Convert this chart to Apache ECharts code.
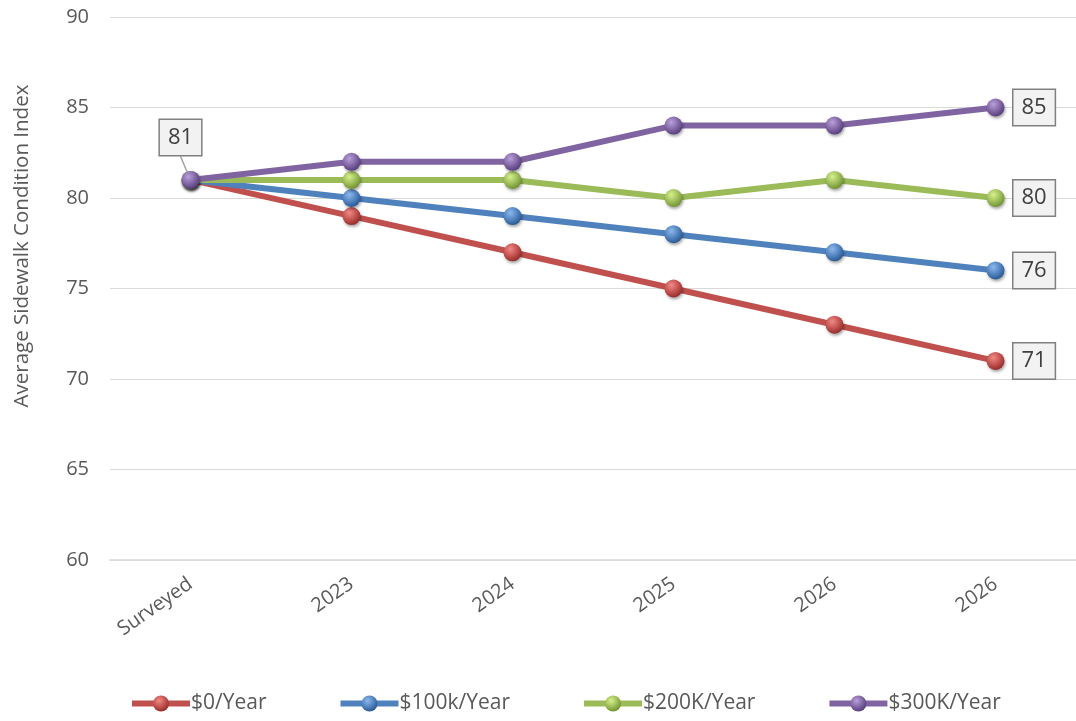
<!DOCTYPE html>
<html><head><meta charset="utf-8">
<script src="https://cdn.jsdelivr.net/npm/echarts@6/dist/echarts.min.js"></script>
<style>html,body{margin:0;padding:0;background:#fff}#c{width:1076px;height:721px}</style>
</head><body><div id="c"></div>
<script>
const categories = ['Surveyed', '2023', '2024', '2025', '2026', '2026'];
const seriesNames = ['$0/Year', '$100k/Year', '$200K/Year', '$300K/Year'];
const zeroPerYear = [81, 79, 77, 75, 73, 71];
const k100PerYear = [81, 80, 79, 78, 77, 76];
const k200PerYear = [81, 81, 81, 80, 81, 80];
const k300PerYear = [81, 82, 82, 84, 84, 85];
const yTicks = [60, 65, 70, 75, 80, 85, 90];
const yTitle = 'Average Sidewalk Condition Index';

const FONT = '"Open Sans", sans-serif';
const colors = [
  {line: '#c0504d', light: '#f08a86', dark: '#8c2623'},
  {line: '#4f81bd', light: '#8db8ec', dark: '#23518a'},
  {line: '#9bbb59', light: '#d6f08a', dark: '#6a8a26'},
  {line: '#8064a2', light: '#b7a0dc', dark: '#4e3675'}
];
const datas = [zeroPerYear, k100PerYear, k200PerYear, k300PerYear];

const boxLabel = {
  show: true, position: 'right', distance: 9,
  color: '#404040', fontSize: 22, fontFamily: FONT, lineHeight: 26,
  backgroundColor: '#f2f2f2', borderColor: '#808080', borderWidth: 1.5,
  padding: [5, 8, 4, 8]
};

const series = datas.map((d, si) => ({
  name: seriesNames[si],
  type: 'line',
  data: d.map((v, i) => {
    const item = {value: v};
    if (i === d.length - 1) item.label = boxLabel;
    if (si === 3 && i === 0) {
      item.label = Object.assign({}, boxLabel, {position: 'top', distance: 8});
      item.labelLine = {show: true, lineStyle: {color: '#a6a6a6', width: 1.5}};
    }
    return item;
  }),
  symbol: 'circle', symbolSize: 18,
  lineStyle: {color: colors[si].line, width: 6},
  itemStyle: {
    color: {type: 'radial', x: 0.38, y: 0.32, r: 0.75, colorStops: [
      {offset: 0, color: colors[si].light}, {offset: 0.55, color: colors[si].line}, {offset: 1, color: colors[si].dark}]},
    shadowColor: 'rgba(0,0,0,0.35)', shadowBlur: 3, shadowOffsetX: 1, shadowOffsetY: 2
  },
  label: {show: false},
  labelLine: {show: false},
  labelLayout: si === 3 ? function (p) { return p.dataIndex === 0 ? {dx: -10, dy: -8} : {}; } : null,
  z: 2 + si
}));

const chart = echarts.init(document.getElementById('c'), null, {renderer: 'canvas'});
chart.setOption({
  animation: false,
  backgroundColor: '#fff',
  grid: {left: 110, right: -2, top: 17, bottom: 161, containLabel: false},
  legend: {
    data: seriesNames, left: 124, bottom: 2, itemWidth: 58, itemHeight: 20, itemGap: 71,
    lineStyle: {width: 6},
    textStyle: {color: '#595959', fontSize: 21, fontFamily: FONT, padding: [0, 0, 0, -4]}
  },
  graphic: [{
    type: 'text', rotation: Math.PI / 2,
    x: 22, y: 246,
    style: {text: yTitle, fill: '#595959', fontSize: 20.5, fontFamily: FONT, textAlign: 'center', textVerticalAlign: 'middle'}
  }],
  xAxis: {
    type: 'category', data: categories, boundaryGap: true,
    axisLine: {lineStyle: {color: '#d9d9d9', width: 1.5}},
    axisTick: {show: false},
    axisLabel: {color: '#595959', fontSize: 20, fontFamily: FONT, rotate: 35, margin: 22, interval: 0}
  },
  yAxis: {
    type: 'value', min: yTicks[0], max: yTicks[yTicks.length - 1], interval: 5,
    axisLine: {show: false}, axisTick: {show: false},
    splitLine: {lineStyle: {color: '#d9d9d9', width: 1.2}},
    axisLabel: {color: '#595959', fontSize: 20, fontFamily: FONT, margin: 21}
  },
  series: series
});
</script></body></html>
